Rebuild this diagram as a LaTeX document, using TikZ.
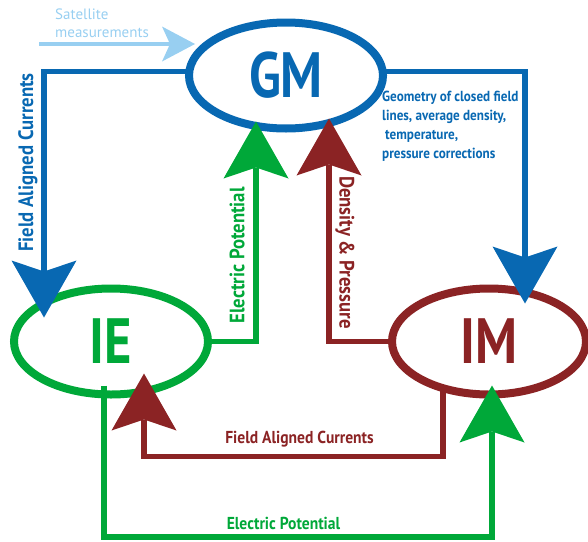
\documentclass[tikz,border=0pt]{standalone}
\usepackage{fontspec}
\usepackage{tikz}
\usetikzlibrary{calc,shapes,arrows.meta,positioning}
\newfontfamily\bigfont[FakeStretch=0.82]{PT Sans}
\newfontfamily\diagfont[FakeStretch=0.9]{PT Sans}
\definecolor{gmblue}{RGB}{8,104,178}
\definecolor{iegreen}{RGB}{0,168,57}
\definecolor{imred}{RGB}{139,35,36}
\definecolor{satblue}{RGB}{152,207,241}

\begin{document}
\begin{tikzpicture}[x=1pt,y=-1pt,
		model/.style={ellipse,line width=8pt,minimum width=194pt,minimum height=106pt,inner sep=0pt,outer sep=0pt,font=\bigfont\bfseries\fontsize{64}{64}\selectfont},
		link/.style={line width=5.5pt,-{Stealth[length=57pt,width=65pt,inset=11pt,line width=0pt]}},
		lab/.style={inner sep=0pt,font=\diagfont\bfseries\fontsize{17.3}{17.3}\selectfont},
		vlab/.style={inner sep=0pt,font=\diagfont\bfseries\fontsize{20.8}{20.8}\selectfont}]
		\useasboundingbox (0,0) rectangle (588,541);
		
		\foreach \n/\x/\y/\c in {GM/286/75.5/gmblue,IE/111/341.5/iegreen,IM/489/341.5/imred}
		\node[model,draw=\c,text=\c] (\n) at (\x,\y) {\n};
		
		\coordinate (satstart) at (39,44);
		\draw[satblue,line width=4pt,-{Stealth[length=33pt,width=35pt,inset=8pt,line width=0pt]}] (satstart) -- ([shift={(-91,-31.5)}]GM.center);
		\node[inner sep=0pt,anchor=north west,align=left,text=satblue,font=\fontspec{PT Sans}\fontsize{15}{18}\selectfont] (satlab) at (55,9) {Satellite\\measurements};
		
		\draw[link,gmblue] ([yshift=4pt]GM.west) -| ([shift={(-67,-24)}]IE.center);
		\draw[link,gmblue] ([yshift=4pt]GM.east) -| ([shift={(36,-38)}]IM.center);
		\draw[link,iegreen] (IE.east) -| ([shift={(-30,46)}]GM.center);
		\draw[link,imred] (IM.west) -| ([shift={(43,43)}]GM.center);
		\draw[link,imred] ([shift={(-46,44)}]IM.center) -- ++(0,71) -| ([shift={(33,32)}]IE.center);
		\draw[link,iegreen] ([shift={(-7,44)}]IE.center) -- ++(0,151.5) -| ([shift={(3,44)}]IM.center);
		
		\node[vlab,text=gmblue,rotate=90] (facleft) at (28,162.5) {Field Aligned Currents};
		\node[vlab,text=iegreen,rotate=90] (epmid) at (237,255.5) {Electric Potential};
		\node[vlab,text=imred,rotate=-90] (dpmid) at (345,252.5) {Density \& Pressure};
		\node[lab,text=imred] (facbot) at (299.5,439) {Field Aligned Currents};
		\node[lab,text=iegreen] (epbot) at (283.5,523) {Electric Potential};
		\node[inner sep=0pt,anchor=north west,align=left,text=gmblue,font=\diagfont\bfseries\fontsize{14.6}{19}\selectfont] (geolab) at (382,90.5) {Geometry of closed field\\lines,  average density,\\\hspace{3pt}temperature,\\pressure corrections};
	\end{tikzpicture}
\end{document}
